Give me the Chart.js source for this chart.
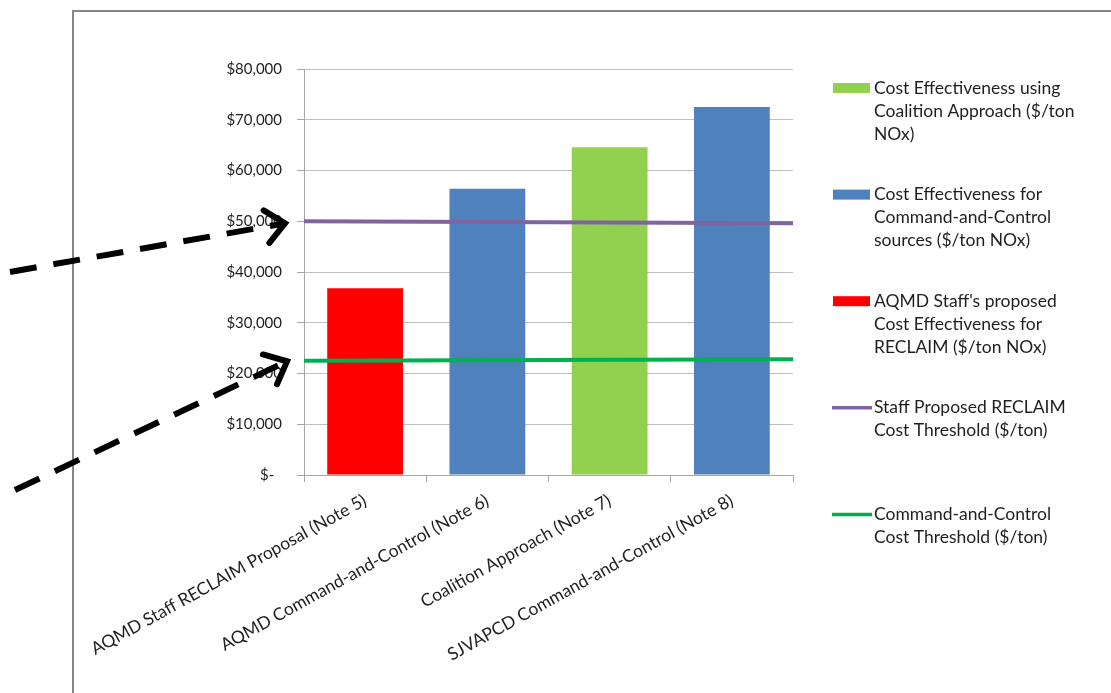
<!DOCTYPE html>
<html>
<head>
<meta charset="utf-8">
<script src="https://cdn.jsdelivr.net/npm/chart.js@4.4.1/dist/chart.umd.min.js"></script>
<style>
  html, body { margin: 0; padding: 0; background: #ffffff; }
  #wrap { position: relative; width: 1111px; height: 693px; }
</style>
</head>
<body>
<div id="wrap"><canvas id="c" width="1111" height="693"></canvas></div>
<script>
// ---- Data ----
const categories = [
  "AQMD Staff RECLAIM Proposal (Note 5)",
  "AQMD Command-and-Control (Note 6)",
  "Coalition Approach (Note 7)",
  "SJVAPCD Command-and-Control (Note 8)"
];
const coalitionValues = [null, null, 64600, null];
const commandControlValues = [null, 56400, null, 72500];
const staffReclaimValues = [36800, null, null, null];
const staffThresholdLine = [50000, 49600];
const commandThresholdLine = [22500, 22800];
const yTicks = [0, 10000, 20000, 30000, 40000, 50000, 60000, 70000, 80000];

const legendLines = [
  ["Cost Effectiveness using", "Coalition Approach ($/ton", "NOx)"],
  ["Cost Effectiveness for", "Command-and-Control", "sources ($/ton NOx)"],
  ["AQMD Staff's proposed", "Cost Effectiveness for", "RECLAIM ($/ton NOx)"],
  ["Staff Proposed RECLAIM", "Cost Threshold ($/ton)"],
  ["Command-and-Control", "Cost Threshold ($/ton)"]
];

const FONT = "Lato, 'Open Sans', sans-serif";
const TEXT = "#1f1f1f";

function spanLine(vals) {
  return vals.map((v, i) => ({ x: i / (vals.length - 1), y: v }));
}

// Custom legend + frame + arrows
const decorPlugin = {
  id: 'decor',
  beforeDraw(chart) {
    const ctx = chart.ctx;
    ctx.save();
    ctx.fillStyle = '#ffffff';
    ctx.fillRect(0, 0, chart.width, chart.height);
    ctx.strokeStyle = '#868686';
    ctx.lineWidth = 2;
    ctx.beginPath();
    ctx.moveTo(73, chart.height);
    ctx.lineTo(73, 11);
    ctx.lineTo(chart.width, 11);
    ctx.stroke();
    ctx.restore();
  },
  afterDraw(chart) {
    const ctx = chart.ctx;
    ctx.save();
    // legend
    const items = chart.data.datasets;
    const x0 = 833, textX = 874, y0 = 88, step = 106.6, lh = 23;
    ctx.font = "17.5px " + FONT;
    ctx.textBaseline = 'middle';
    ctx.textAlign = 'left';
    items.forEach((ds, i) => {
      const y = y0 + i * step;
      if (ds.type === 'line') {
        ctx.strokeStyle = ds.borderColor;
        ctx.lineWidth = 3.5;
        ctx.beginPath();
        ctx.moveTo(x0 - 1, y);
        ctx.lineTo(x0 + 39, y);
        ctx.stroke();
      } else {
        ctx.fillStyle = ds.backgroundColor;
        ctx.fillRect(x0, y - 5, 37, 10);
      }
      ctx.fillStyle = TEXT;
      legendLines[i].forEach((t, k) => ctx.fillText(t, textX, y + k * lh));
    });

    // dashed arrows
    const ys = chart.scales.y;
    const left = chart.chartArea.left;
    const arrows = [
      { from: [10, 272], to: [left - 19, ys.getPixelForValue(49600)] },
      { from: [15, 490], to: [left - 17, ys.getPixelForValue(22400)] }
    ];
    ctx.strokeStyle = '#000000';
    ctx.lineWidth = 6;
    ctx.lineCap = 'butt';
    arrows.forEach(a => {
      const [fx, fy] = a.from, [tx, ty] = a.to;
      const ang = Math.atan2(ty - fy, tx - fx);
      ctx.setLineDash([27, 17]);
      ctx.beginPath();
      ctx.moveTo(fx, fy);
      ctx.lineTo(tx - 4 * Math.cos(ang), ty - 4 * Math.sin(ang));
      ctx.stroke();
      ctx.setLineDash([]);
      const L = 25, spread = 0.72;
      ctx.lineCap = 'round';
      ctx.lineJoin = 'miter';
      ctx.beginPath();
      ctx.moveTo(tx - L * Math.cos(ang - spread), ty - L * Math.sin(ang - spread));
      ctx.lineTo(tx, ty);
      ctx.lineTo(tx - L * Math.cos(ang + spread), ty - L * Math.sin(ang + spread));
      ctx.stroke();
      ctx.lineCap = 'butt';
    });
    ctx.restore();
  }
};

new Chart(document.getElementById('c'), {
  data: {
    labels: categories,
    datasets: [
      { type: 'bar', label: 'Cost Effectiveness using Coalition Approach ($/ton NOx)', data: coalitionValues,
        backgroundColor: '#92d050', grouped: false, order: 3 },
      { type: 'bar', label: 'Cost Effectiveness for Command-and-Control sources ($/ton NOx)', data: commandControlValues,
        backgroundColor: '#4f81bd', grouped: false, order: 3 },
      { type: 'bar', label: "AQMD Staff's proposed Cost Effectiveness for RECLAIM ($/ton NOx)", data: staffReclaimValues,
        backgroundColor: '#ff0000', grouped: false, order: 3 },
      { type: 'line', label: 'Staff Proposed RECLAIM Cost Threshold ($/ton)', data: spanLine(staffThresholdLine),
        xAxisID: 'xLine', borderColor: '#8064a2', borderWidth: 4, pointRadius: 0, order: 1 },
      { type: 'line', label: 'Command-and-Control Cost Threshold ($/ton)', data: spanLine(commandThresholdLine),
        xAxisID: 'xLine', borderColor: '#00b050', borderWidth: 4, pointRadius: 0, order: 0 }
    ]
  },
  options: {
    responsive: false,
    animation: false,
    layout: { padding: { left: 204, top: 69, right: 318, bottom: 28 } },
    datasets: { bar: { barPercentage: 0.62, categoryPercentage: 1.0 } },
    plugins: { legend: { display: false }, tooltip: { enabled: false } },
    scales: {
      x: {
        type: 'category',
        afterFit(s) { s.height = 190; },
        grid: { display: true, drawOnChartArea: false, drawTicks: true, tickLength: 7, color: '#a6a6a6', offset: true },
        border: { display: true, color: '#a6a6a6', width: 1 },
        ticks: { color: TEXT, font: { family: FONT, size: 17.5 }, minRotation: 29, maxRotation: 29, autoSkip: false, padding: 8 }
      },
      xLine: { type: 'linear', display: false, min: 0, max: 1 },
      y: {
        min: 0, max: 80000,
        afterFit(s) { s.width = 100; },
        afterBuildTicks(s) { s.ticks = yTicks.map(v => ({ value: v })); },
        grid: { color: '#bfbfbf', tickLength: 7, tickColor: '#a6a6a6' },
        border: { display: true, color: '#a6a6a6', width: 1 },
        ticks: {
          color: TEXT, font: { family: FONT, size: 15 }, padding: 15,
          callback: v => v === 0 ? '$-  ' : '$' + v.toLocaleString('en-US')
        }
      }
    }
  },
  plugins: [decorPlugin]
});
</script>
</body>
</html>
